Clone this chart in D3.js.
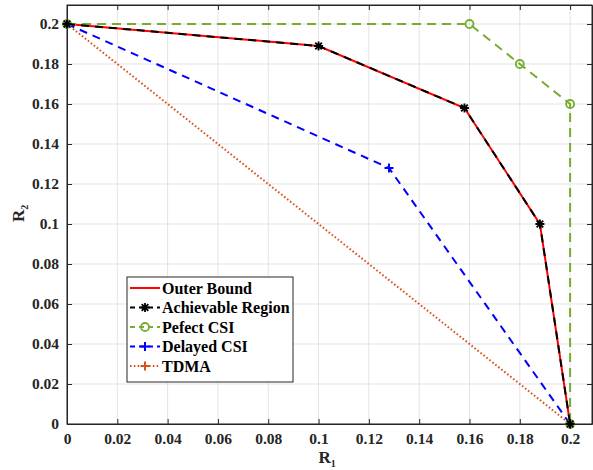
<!DOCTYPE html>
<html>
<head>
<meta charset="utf-8">
<script src="https://cdn.jsdelivr.net/npm/d3@7"></script>
<style>
  body { margin: 0; background: #fff; }
  text { font-family: "Liberation Serif", "Times New Roman", serif; font-weight: bold; }
</style>
</head>
<body>
<div id="chart"></div>
<script>
// rate region data
var outerR1 = [0, 0.1, 0.158, 0.188, 0.2],
    outerR2 = [0.2, 0.189, 0.158, 0.1, 0];
var achR1 = [0, 0.1, 0.158, 0.188, 0.2],
    achR2 = [0.2, 0.189, 0.158, 0.1, 0];
var perfR1 = [0, 0.16, 0.18, 0.2, 0.2],
    perfR2 = [0.2, 0.2, 0.18, 0.16, 0];
var delR1 = [0, 0.128, 0.2],
    delR2 = [0.2, 0.128, 0];
var tdmaR1 = [0, 0.2],
    tdmaR2 = [0.2, 0];
var xTicks = [0, 0.02, 0.04, 0.06, 0.08, 0.1, 0.12, 0.14, 0.16, 0.18, 0.2],
    yTicks = [0, 0.02, 0.04, 0.06, 0.08, 0.1, 0.12, 0.14, 0.16, 0.18, 0.2];
var legendNames = ['Outer Bound', 'Achievable Region', 'Pefect CSI', 'Delayed CSI', 'TDMA'];

var W = 593, H = 470,
    pLeft = 67, pTop = 5, pRight = 592, pBottom = 424;

var svg = d3.select('#chart').append('svg')
  .attr('width', W).attr('height', H);

var x = d3.scaleLinear().domain([0, 0.2087]).range([pLeft, pRight]);
var y = d3.scaleLinear().domain([0, 0.2095]).range([pBottom, pTop]);

function pts(xs, ys) { return xs.map(function(v, i) { return [v, ys[i]]; }); }

// grid
svg.append('g').selectAll('line').data(xTicks).enter().append('line')
  .attr('x1', function(d) { return x(d); }).attr('x2', function(d) { return x(d); })
  .attr('y1', pTop).attr('y2', pBottom)
  .attr('stroke', '#e3e3e3').attr('stroke-width', 1);
svg.append('g').selectAll('line').data(yTicks).enter().append('line')
  .attr('y1', function(d) { return y(d); }).attr('y2', function(d) { return y(d); })
  .attr('x1', pLeft).attr('x2', pRight)
  .attr('stroke', '#e3e3e3').attr('stroke-width', 1);

// axes (MATLAB box style, ticks inward)
var fmt = function(d) { return String(+d.toFixed(2)); };
var xAxis = svg.append('g').attr('transform', 'translate(0,' + pBottom + ')')
  .call(d3.axisBottom(x).tickValues(xTicks).tickFormat(fmt).tickSizeInner(-5).tickSizeOuter(0).tickPadding(9));
var yAxis = svg.append('g').attr('transform', 'translate(' + pLeft + ',0)')
  .call(d3.axisLeft(y).tickValues(yTicks).tickFormat(fmt).tickSizeInner(-5).tickSizeOuter(0).tickPadding(8));
var xTop = svg.append('g').attr('transform', 'translate(0,' + pTop + ')')
  .call(d3.axisTop(x).tickValues(xTicks).tickFormat('').tickSizeInner(-5).tickSizeOuter(0));
var yRight = svg.append('g').attr('transform', 'translate(' + pRight + ',0)')
  .call(d3.axisRight(y).tickValues(yTicks).tickFormat('').tickSizeInner(-5).tickSizeOuter(0));
[xAxis, yAxis, xTop, yRight].forEach(function(a) {
  a.select('.domain').attr('stroke', '#262626');
  a.selectAll('.tick line').attr('stroke', '#262626');
  a.selectAll('text').attr('font-size', 15.5).attr('fill', '#262626')
    .style('font-family', '"Liberation Serif", serif').style('font-weight', 'bold');
});
svg.append('rect').attr('x', pLeft).attr('y', pTop).attr('width', pRight - pLeft).attr('height', pBottom - pTop)
  .attr('fill', 'none').attr('stroke', '#262626').attr('stroke-width', 1);

// axis labels
svg.append('text').attr('x', (pLeft + pRight) / 2 - 11).attr('y', 463).attr('font-size', 17).attr('fill', '#262626')
  .text('R').append('tspan').attr('font-size', 10).attr('dy', 4).text('1');
svg.append('text').attr('transform', 'translate(24,' + 222 + ') rotate(-90)').attr('font-size', 17).attr('fill', '#262626')
  .text('R').append('tspan').attr('font-size', 10).attr('dy', 4).text('2');

var line = d3.line().x(function(d) { return x(d[0]); }).y(function(d) { return y(d[1]); });

var series = [
  { xs: outerR1, ys: outerR2, color: '#ff0000', dash: null, marker: null },
  { xs: tdmaR1, ys: tdmaR2, color: '#d95319', dash: '1.6,2.2', marker: 'plus' },
  { xs: delR1, ys: delR2, color: '#0000ff', dash: '8,6', marker: 'plus' },
  { xs: perfR1, ys: perfR2, color: '#77ac30', dash: '9,6', marker: 'circle' },
  { xs: achR1, ys: achR2, color: '#000000', dash: '8,6', marker: 'star' }
];

function drawMarker(g, kind, color, cx, cy) {
  if (kind === 'circle') {
    g.append('circle').attr('cx', cx).attr('cy', cy).attr('r', 4)
      .attr('fill', 'none').attr('stroke', color).attr('stroke-width', 1.8);
  } else if (kind === 'plus') {
    g.append('path').attr('d', 'M' + (cx - 4.5) + ',' + cy + 'h9M' + cx + ',' + (cy - 4.5) + 'v9')
      .attr('stroke', color).attr('stroke-width', 2);
  } else if (kind === 'star') {
    var s = 4.5, d = 3.3;
    g.append('path').attr('d', 'M' + (cx - s) + ',' + cy + 'h' + (2 * s) + 'M' + cx + ',' + (cy - s) + 'v' + (2 * s) +
        'M' + (cx - d) + ',' + (cy - d) + 'l' + (2 * d) + ',' + (2 * d) + 'M' + (cx - d) + ',' + (cy + d) + 'l' + (2 * d) + ',' + (-2 * d))
      .attr('stroke', color).attr('stroke-width', 1.8);
  }
}

series.forEach(function(s) {
  var data = pts(s.xs, s.ys);
  var g = svg.append('g');
  g.append('path').datum(data).attr('d', line)
    .attr('fill', 'none').attr('stroke', s.color).attr('stroke-width', 2)
    .attr('stroke-dasharray', s.dash);
  if (s.marker) data.forEach(function(p) { drawMarker(g, s.marker, s.color, x(p[0]), y(p[1])); });
});

// legend
var leg = svg.append('g');
leg.append('rect').attr('x', 127).attr('y', 277).attr('width', 166).attr('height', 105)
  .attr('fill', '#fff').attr('stroke', '#262626').attr('stroke-width', 1);
var legStyle = [series[0], series[4], series[3], series[2], series[1]];
legendNames.forEach(function(name, i) {
  var ly = 288 + i * 19.5, s = legStyle[i];
  leg.append('line').attr('x1', 130).attr('x2', 160).attr('y1', ly).attr('y2', ly)
    .attr('stroke', s.color).attr('stroke-width', 2)
    .attr('stroke-dasharray', s.dash ? (s.dash === '1.6,2.2' ? s.dash : '5,4') : null);
  if (s.marker) drawMarker(leg, s.marker, s.color, 145, ly);
  leg.append('text').attr('x', 162).attr('y', ly + 5.5).attr('font-size', 16).attr('fill', '#000').text(name);
});
</script>
</body>
</html>
